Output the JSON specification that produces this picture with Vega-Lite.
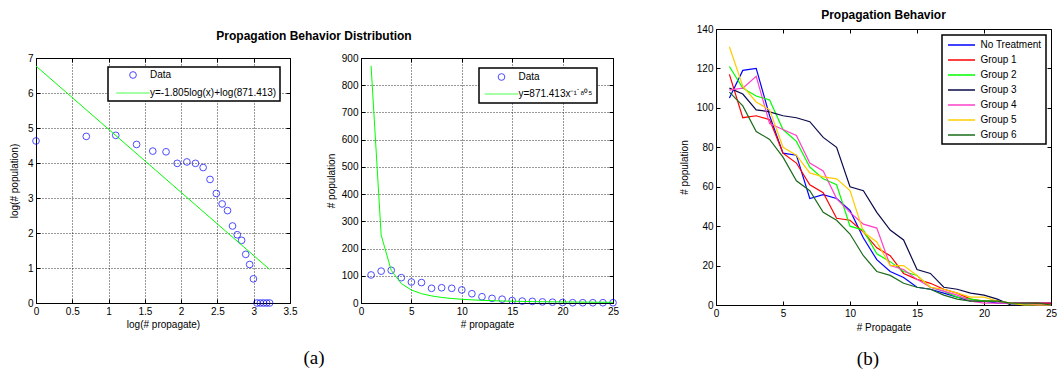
{
  "$schema": "https://vega.github.io/schema/vega-lite/v6.json",
  "background": "white",
  "padding": {"left": 8, "top": 8, "right": 2, "bottom": 2},
  "config": {
    "font": "Liberation Sans",
    "view": {"stroke": "black", "strokeWidth": 1},
    "axis": {
      "labelFont": "Liberation Sans", "labelFontSize": 10, "labelColor": "black",
      "titleFont": "Liberation Sans", "titleFontSize": 10, "titleFontWeight": "normal", "titleColor": "black",
      "domain": false, "tickColor": "black", "tickSize": -4, "labelPadding": 7,
      "labelFlush": false, "labelOverlap": false, "grid": false, "titlePadding": 4
    },
    "title": {"font": "Liberation Sans", "fontSize": 12, "fontWeight": "bold", "color": "black", "anchor": "middle"},
    "legend": {"labelFont": "Liberation Sans", "labelColor": "black", "labelFontSize": 10, "title": null, "strokeColor": "black", "fillColor": "white", "strokeWidth": 1.5, "cornerRadius": 0}
  },
  "datasets": {
    "dist": [
      {"k": 1, "logk": 0, "pop": 103, "logpop": 4.63},
      {"k": 2, "logk": 0.693, "pop": 117, "logpop": 4.76},
      {"k": 3, "logk": 1.099, "pop": 120, "logpop": 4.79},
      {"k": 4, "logk": 1.386, "pop": 93, "logpop": 4.53},
      {"k": 5, "logk": 1.609, "pop": 77, "logpop": 4.34},
      {"k": 6, "logk": 1.792, "pop": 75, "logpop": 4.32},
      {"k": 7, "logk": 1.946, "pop": 54, "logpop": 3.99},
      {"k": 8, "logk": 2.079, "pop": 56, "logpop": 4.03},
      {"k": 9, "logk": 2.197, "pop": 54, "logpop": 3.99},
      {"k": 10, "logk": 2.303, "pop": 48, "logpop": 3.87},
      {"k": 11, "logk": 2.398, "pop": 34, "logpop": 3.53},
      {"k": 12, "logk": 2.485, "pop": 23, "logpop": 3.13},
      {"k": 13, "logk": 2.565, "pop": 17, "logpop": 2.83},
      {"k": 14, "logk": 2.639, "pop": 14, "logpop": 2.64},
      {"k": 15, "logk": 2.708, "pop": 9, "logpop": 2.2},
      {"k": 16, "logk": 2.773, "pop": 7, "logpop": 1.95},
      {"k": 17, "logk": 2.833, "pop": 6, "logpop": 1.79},
      {"k": 18, "logk": 2.89, "pop": 4, "logpop": 1.39},
      {"k": 19, "logk": 2.944, "pop": 3, "logpop": 1.1},
      {"k": 20, "logk": 2.996, "pop": 2, "logpop": 0.69},
      {"k": 21, "logk": 3.045, "pop": 1, "logpop": 0},
      {"k": 22, "logk": 3.091, "pop": 1, "logpop": 0},
      {"k": 23, "logk": 3.135, "pop": 1, "logpop": 0},
      {"k": 24, "logk": 3.178, "pop": 1, "logpop": 0},
      {"k": 25, "logk": 3.219, "pop": 1, "logpop": 0}
    ],
    "logfit": [
      {"logk": 0, "logpop": 6.77},
      {"logk": 3.219, "logpop": 0.96}
    ],
    "powfit": [
      {"k": 1, "pop": 871.4}, {"k": 2, "pop": 249.4}, {"k": 3, "pop": 119.9}, {"k": 4, "pop": 71.4},
      {"k": 5, "pop": 47.7}, {"k": 6, "pop": 34.3}, {"k": 7, "pop": 26.0}, {"k": 8, "pop": 20.4},
      {"k": 9, "pop": 16.5}, {"k": 10, "pop": 13.7}, {"k": 11, "pop": 11.5}, {"k": 12, "pop": 9.8},
      {"k": 13, "pop": 8.5}, {"k": 14, "pop": 7.4}, {"k": 15, "pop": 6.6}, {"k": 16, "pop": 5.8},
      {"k": 17, "pop": 5.2}, {"k": 18, "pop": 4.7}, {"k": 19, "pop": 4.3}, {"k": 20, "pop": 3.9},
      {"k": 21, "pop": 3.6}, {"k": 22, "pop": 3.3}, {"k": 23, "pop": 3.0}, {"k": 24, "pop": 2.8},
      {"k": 25, "pop": 2.6}
    ],
    "groups": [
      {"k": 1, "No Treatment": 105, "Group 1": 117, "Group 2": 121, "Group 3": 110, "Group 4": 109, "Group 5": 131, "Group 6": 108},
      {"k": 2, "No Treatment": 119, "Group 1": 95, "Group 2": 110, "Group 3": 107, "Group 4": 110, "Group 5": 111, "Group 6": 101},
      {"k": 3, "No Treatment": 120, "Group 1": 96, "Group 2": 106, "Group 3": 99, "Group 4": 116, "Group 5": 103, "Group 6": 88},
      {"k": 4, "No Treatment": 96, "Group 1": 94, "Group 2": 104, "Group 3": 98, "Group 4": 92, "Group 5": 99, "Group 6": 84},
      {"k": 5, "No Treatment": 77, "Group 1": 77, "Group 2": 89, "Group 3": 96, "Group 4": 89, "Group 5": 80, "Group 6": 75},
      {"k": 6, "No Treatment": 76, "Group 1": 72, "Group 2": 83, "Group 3": 95, "Group 4": 86, "Group 5": 76, "Group 6": 63},
      {"k": 7, "No Treatment": 54, "Group 1": 61, "Group 2": 70, "Group 3": 93, "Group 4": 72, "Group 5": 67, "Group 6": 58},
      {"k": 8, "No Treatment": 56, "Group 1": 57, "Group 2": 64, "Group 3": 85, "Group 4": 68, "Group 5": 65, "Group 6": 47},
      {"k": 9, "No Treatment": 54, "Group 1": 44, "Group 2": 61, "Group 3": 80, "Group 4": 54, "Group 5": 64, "Group 6": 43},
      {"k": 10, "No Treatment": 48, "Group 1": 43, "Group 2": 40, "Group 3": 60, "Group 4": 47, "Group 5": 58, "Group 6": 36},
      {"k": 11, "No Treatment": 34, "Group 1": 37, "Group 2": 38, "Group 3": 58, "Group 4": 41, "Group 5": 37, "Group 6": 25},
      {"k": 12, "No Treatment": 23, "Group 1": 29, "Group 2": 26, "Group 3": 47, "Group 4": 39, "Group 5": 32, "Group 6": 17},
      {"k": 13, "No Treatment": 17, "Group 1": 25, "Group 2": 22, "Group 3": 38, "Group 4": 20, "Group 5": 20, "Group 6": 15},
      {"k": 14, "No Treatment": 14, "Group 1": 16, "Group 2": 17, "Group 3": 33, "Group 4": 18, "Group 5": 20, "Group 6": 11},
      {"k": 15, "No Treatment": 9, "Group 1": 13, "Group 2": 15, "Group 3": 18, "Group 4": 13, "Group 5": 15, "Group 6": 9},
      {"k": 16, "No Treatment": 8, "Group 1": 11, "Group 2": 9, "Group 3": 16, "Group 4": 9, "Group 5": 9, "Group 6": 8},
      {"k": 17, "No Treatment": 6, "Group 1": 8, "Group 2": 7, "Group 3": 9, "Group 4": 7, "Group 5": 8, "Group 6": 5},
      {"k": 18, "No Treatment": 4, "Group 1": 6, "Group 2": 4, "Group 3": 8, "Group 4": 5, "Group 5": 6, "Group 6": 3},
      {"k": 19, "No Treatment": 2, "Group 1": 3, "Group 2": 3, "Group 3": 6, "Group 4": 2, "Group 5": 4, "Group 6": 2},
      {"k": 20, "No Treatment": 2, "Group 1": 2, "Group 2": 2, "Group 3": 5, "Group 4": 1, "Group 5": 4, "Group 6": 2},
      {"k": 21, "No Treatment": 1, "Group 1": 2, "Group 2": 2, "Group 3": 3, "Group 4": 1, "Group 5": 2, "Group 6": 2},
      {"k": 22, "No Treatment": 1, "Group 1": 1, "Group 2": 1, "Group 3": 0, "Group 4": 1, "Group 5": 1, "Group 6": 1},
      {"k": 23, "No Treatment": 1, "Group 1": 1, "Group 2": 0, "Group 3": 0, "Group 4": 1, "Group 5": 0, "Group 6": 1},
      {"k": 24, "No Treatment": 1, "Group 1": 1, "Group 2": 0, "Group 3": 0, "Group 4": 0, "Group 5": 0, "Group 6": 1},
      {"k": 25, "No Treatment": 1, "Group 1": 1, "Group 2": 0, "Group 3": 0, "Group 4": 0, "Group 5": 0, "Group 6": 0}
    ]
  },
  "resolve": {"scale": {"color": "independent", "shape": "independent"}, "legend": {"color": "independent", "shape": "independent"}},
  "hconcat": [
    {
      "title": {"text": "(a)", "orient": "bottom", "font": "Liberation Serif", "fontSize": 19, "fontWeight": "normal", "offset": 19},
      "resolve": {"scale": {"color": "independent", "shape": "independent"}, "legend": {"color": "independent", "shape": "independent"}},
      "spacing": 9,
      "vconcat": [
        {
          "width": 556, "height": 14,
          "view": {"stroke": null},
          "data": {"values": [{"t": "Propagation Behavior Distribution"}]},
          "mark": {"type": "text", "font": "Liberation Sans", "fontSize": 12, "fontWeight": "bold", "color": "black"},
          "encoding": {"text": {"field": "t", "type": "nominal"}}
        },
        {
          "spacing": 27,
          "resolve": {"scale": {"color": "independent", "shape": "independent"}, "legend": {"color": "independent", "shape": "independent"}},
          "hconcat": [
            {
              "width": 254, "height": 245,
              "layer": [
                {
                  "data": {"name": "dist"},
                  "mark": {"type": "point", "filled": false, "size": 45, "strokeWidth": 1},
                  "encoding": {
                    "x": {"field": "logk", "type": "quantitative", "scale": {"domain": [0, 3.5], "nice": false},
                      "axis": {"title": "log(# propagate)", "format": "~g", "values": [0, 0.5, 1, 1.5, 2, 2.5, 3, 3.5], "grid": true, "gridColor": "black", "gridDash": [1, 2], "gridOpacity": 0.8, "titlePadding": 3}},
                    "y": {"field": "logpop", "type": "quantitative", "scale": {"domain": [0, 7], "nice": false},
                      "axis": {"title": "log(# population)", "values": [0, 1, 2, 3, 4, 5, 6, 7], "grid": true, "gridColor": "black", "gridDash": [1, 2], "gridOpacity": 0.8, "titlePadding": 8}},
                    "color": {"datum": "Data", "type": "nominal",
                      "scale": {"domain": ["Data", "y=-1.805log(x)+log(871.413)"], "range": ["#0000ff", "#00ff00"]},
                      "legend": {"orient": "none", "legendX": 72, "legendY": 9, "padding": 3, "symbolSize": 45, "symbolOffset": 17, "labelOffset": 12, "rowPadding": 7, "symbolStrokeWidth": 1}},
                    "shape": {"datum": "Data", "type": "nominal",
                      "scale": {"domain": ["Data", "y=-1.805log(x)+log(871.413)"], "range": ["circle", "M-5,0H5"]},
                      "legend": {"orient": "none", "legendX": 72, "legendY": 9, "padding": 3, "symbolSize": 45, "symbolOffset": 17, "labelOffset": 12, "rowPadding": 7, "symbolStrokeWidth": 1}}
                  }
                },
                {
                  "data": {"name": "logfit"},
                  "mark": {"type": "line", "strokeWidth": 1},
                  "encoding": {
                    "x": {"field": "logk", "type": "quantitative", "scale": {"domain": [0, 3.5], "nice": false},
                      "axis": {"orient": "top", "labels": false, "title": null, "values": [0, 0.5, 1, 1.5, 2, 2.5, 3, 3.5]}},
                    "y": {"field": "logpop", "type": "quantitative", "scale": {"domain": [0, 7], "nice": false},
                      "axis": {"orient": "right", "labels": false, "title": null, "values": [0, 1, 2, 3, 4, 5, 6, 7]}},
                    "color": {"datum": "y=-1.805log(x)+log(871.413)", "type": "nominal"}
                  }
                }
              ],
              "resolve": {"axis": {"x": "independent", "y": "independent"}}
            },
            {
              "width": 252, "height": 245,
              "layer": [
                {
                  "data": {"name": "dist"},
                  "mark": {"type": "point", "filled": false, "size": 45, "strokeWidth": 1},
                  "encoding": {
                    "x": {"field": "k", "type": "quantitative", "scale": {"domain": [0, 25], "nice": false},
                      "axis": {"title": "# propagate", "values": [0, 5, 10, 15, 20, 25], "grid": true, "gridColor": "black", "gridDash": [1, 2], "gridOpacity": 0.8, "titlePadding": 3}},
                    "y": {"field": "pop", "type": "quantitative", "scale": {"domain": [0, 900], "nice": false},
                      "axis": {"title": "# population", "values": [0, 100, 200, 300, 400, 500, 600, 700, 800, 900], "grid": true, "gridColor": "black", "gridDash": [1, 2], "gridOpacity": 0.8, "titlePadding": 5}},
                    "color": {"datum": "Data", "type": "nominal",
                      "scale": {"domain": ["Data", "y=871.413x⁻¹˙⁸⁰⁵"], "range": ["#0000ff", "#00ff00"]},
                      "legend": {"orient": "none", "legendX": 118, "legendY": 10, "padding": 4, "symbolSize": 45, "symbolOffset": 13.5, "labelOffset": 12, "rowPadding": 6, "symbolStrokeWidth": 1}},
                    "shape": {"datum": "Data", "type": "nominal",
                      "scale": {"domain": ["Data", "y=871.413x⁻¹˙⁸⁰⁵"], "range": ["circle", "M-5,0H5"]},
                      "legend": {"orient": "none", "legendX": 118, "legendY": 10, "padding": 4, "symbolSize": 45, "symbolOffset": 13.5, "labelOffset": 12, "rowPadding": 6, "symbolStrokeWidth": 1}}
                  }
                },
                {
                  "data": {"name": "powfit"},
                  "mark": {"type": "line", "strokeWidth": 1},
                  "encoding": {
                    "x": {"field": "k", "type": "quantitative", "scale": {"domain": [0, 25], "nice": false},
                      "axis": {"orient": "top", "labels": false, "title": null, "values": [0, 5, 10, 15, 20, 25]}},
                    "y": {"field": "pop", "type": "quantitative", "scale": {"domain": [0, 900], "nice": false},
                      "axis": {"orient": "right", "labels": false, "title": null, "values": [0, 100, 200, 300, 400, 500, 600, 700, 800, 900]}},
                    "color": {"datum": "y=871.413x⁻¹˙⁸⁰⁵", "type": "nominal"}
                  }
                }
              ],
              "resolve": {"axis": {"x": "independent", "y": "independent"}}
            }
          ]
        }
      ]
    },
    {
      "title": {"text": "(b)", "orient": "bottom", "font": "Liberation Serif", "fontSize": 19, "fontWeight": "normal", "offset": 17},
      "resolve": {"scale": {"color": "independent"}, "legend": {"color": "independent"}},
      "vconcat": [
        {
          "title": {"text": "Propagation Behavior", "offset": 2},
          "width": 335, "height": 276,
          "data": {"name": "groups"},
          "transform": [{"fold": ["No Treatment", "Group 1", "Group 2", "Group 3", "Group 4", "Group 5", "Group 6"], "as": ["group", "n"]}],
          "layer": [
            {
              "mark": {"type": "line", "strokeWidth": 1.2},
              "encoding": {
                "x": {"field": "k", "type": "quantitative", "scale": {"domain": [0, 25], "nice": false},
                  "axis": {"title": "# Propagate", "values": [0, 5, 10, 15, 20, 25], "titlePadding": 4}},
                "y": {"field": "n", "type": "quantitative", "scale": {"domain": [0, 140], "nice": false},
                  "axis": {"title": "# population", "values": [0, 20, 40, 60, 80, 100, 120, 140], "titlePadding": 7}},
                "color": {"field": "group", "type": "nominal",
                  "scale": {"domain": ["No Treatment", "Group 1", "Group 2", "Group 3", "Group 4", "Group 5", "Group 6"],
                    "range": ["#0000ff", "#ff0000", "#00ff00", "#0a0a4a", "#ff40c8", "#ffcc00", "#1a6b1a"]},
                  "legend": {"orient": "none", "legendX": 226, "legendY": 6, "padding": 4, "symbolType": "M-2.7,0H2.7", "symbolSize": 100, "symbolStrokeWidth": 1.5, "symbolOffset": 9.5, "labelOffset": 13, "rowPadding": 4}}
              }
            },
            {
              "mark": {"type": "point", "opacity": 0},
              "encoding": {
                "x": {"field": "k", "type": "quantitative", "scale": {"domain": [0, 25], "nice": false},
                  "axis": {"orient": "top", "labels": false, "title": null, "values": [0, 5, 10, 15, 20, 25]}},
                "y": {"field": "n", "type": "quantitative", "scale": {"domain": [0, 140], "nice": false},
                  "axis": {"orient": "right", "labels": false, "title": null, "values": [0, 20, 40, 60, 80, 100, 120, 140]}}
              }
            }
          ],
          "resolve": {"axis": {"x": "independent", "y": "independent"}}
        }
      ]
    }
  ],
  "spacing": 58
}
